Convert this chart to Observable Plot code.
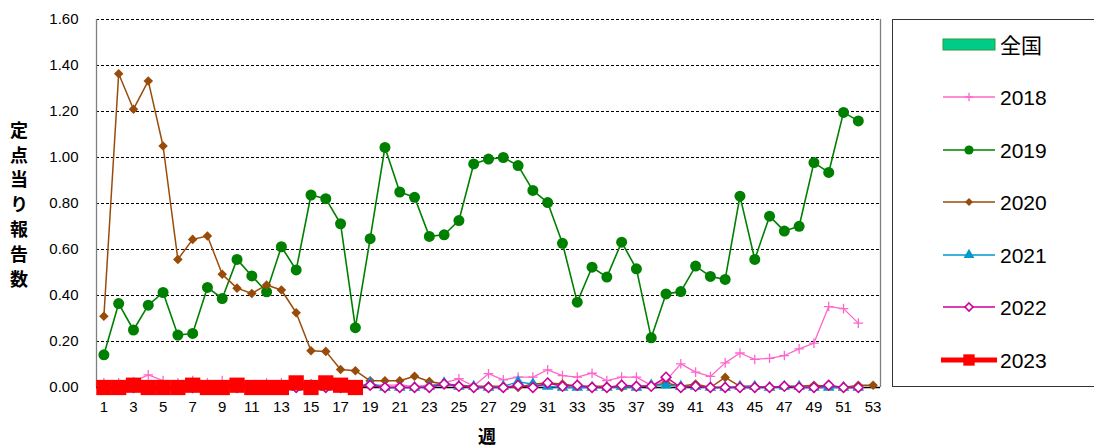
<!DOCTYPE html>
<html><head><meta charset="utf-8">
<script src="https://cdn.jsdelivr.net/npm/d3@7"></script>
<script src="https://cdn.jsdelivr.net/npm/@observablehq/plot@0.6"></script>
<style>
html,body{margin:0;padding:0;background:#fff;}
#wrap{position:relative;width:1094px;height:448px;overflow:hidden;font-family:"Liberation Sans",Arial,sans-serif;}
#ytitle{position:absolute;left:10px;top:121px;writing-mode:vertical-rl;font-family:"Noto Sans CJK JP",sans-serif;font-weight:bold;font-size:18px;letter-spacing:6.8px;line-height:18px;color:#000;}
#xtitle{position:absolute;left:478px;top:424px;font-family:"Noto Sans CJK JP",sans-serif;font-weight:bold;font-size:18px;line-height:22px;color:#000;}
#legend{position:absolute;left:892px;top:19px;width:220px;height:366px;border:1.3px solid #333;background:#fff;}
</style></head>
<body><div id="wrap"><div id="chart"></div><div id="ytitle">定点当り報告数</div><div id="xtitle">週</div><div id="legend"></div></div>
<script>
const weeks53 = d3.range(1, 54);
const seriesNames = ["2018", "2019", "2020", "2021", "2022", "2023"];
const nationalLabel = "全国";
const yTickValues = [0, 0.2, 0.4, 0.6, 0.8, 1.0, 1.2, 1.4, 1.6];
const xTickValues = d3.range(1, 54, 2);

const y2018 = [0.02,0.02,0.025,0.055,0.03,0.02,0.03,0.02,0.03,0.02,0.01,0.02,0.02,0.01,0.01,0.015,0.01,0.01,0.01,0.01,0.01,0.005,0.01,0.02,0.038,0.006,0.06,0.033,0.045,0.045,0.077,0.052,0.045,0.062,0.03,0.045,0.045,0.009,0.03,0.103,0.067,0.048,0.107,0.15,0.122,0.127,0.139,0.168,0.193,0.352,0.343,0.28];
const y2019 = [0.142,0.365,0.25,0.358,0.413,0.228,0.235,0.435,0.387,0.557,0.485,0.416,0.612,0.511,0.837,0.821,0.712,0.26,0.647,1.044,0.85,0.827,0.657,0.664,0.726,0.972,0.993,1.0,0.965,0.857,0.804,0.627,0.371,0.523,0.48,0.632,0.516,0.216,0.407,0.417,0.528,0.483,0.47,0.832,0.557,0.745,0.68,0.701,0.978,0.935,1.196,1.159];
const y2020 = [0.31,1.364,1.21,1.333,1.05,0.557,0.644,0.659,0.492,0.432,0.409,0.446,0.424,0.325,0.16,0.157,0.078,0.073,0.029,0.029,0.029,0.049,0.026,0.015,0.01,0.005,0.005,0.005,0.0,0.015,0.02,0.015,0.005,0.005,0.005,0.0,0.005,0.005,0.02,0.005,0.015,0.0,0.044,0.005,0.005,0.0,0.005,0.005,0.01,0.005,0.0,0.01,0.01];
const y2021 = [0,0,0,0,0,0,0,0,0,0,0,0,0,0,0.01,0,0,0,0.02,0,0,0,0.005,0.02,0.005,0.005,0,0.005,0.025,0.015,0.005,0,0,0,0,0.005,0,0.01,0.01,0.005,0.005,0,0,0.005,0.005,0,0.005,0.005,0,0,0,0];
const y2022 = [0,0,0,0,0,0,0,0,0,0,0,0,0,0,0,0,0,0,0.01,0,0,0,0,0.015,0.005,0,0,0,0.01,0,0.02,0.005,0.01,0,0,0.01,0.005,0.005,0.045,0,0.005,0,0,0,0,0,0.005,0,0,0.01,0,0];
const y2023 = [0,0,0.01,0,0,0,0.01,0,0,0.01,0,0,0,0.02,0,0.02,0.01,0];

const toRows = arr => arr.map((v, i) => ({week: weeks53[i], v}));

const styles = {
  "2018": {stroke:"#ff66cc", lw:1.3, symbol:"plus", r:3.2, fill:"none", sw:1.3, lr:2.8},
  "2019": {stroke:"#008000", lw:1.6, symbol:"circle", r:5.5, fill:"#008000", sw:0, lr:4.6},
  "2020": {stroke:"#994c0a", lw:1.5, symbol:"diamond2", r:4.3, fill:"#994c0a", sw:0, lr:3.6},
  "2021": {stroke:"#0099cc", lw:1.3, symbol:"triangle", r:4.3, fill:"#0099cc", sw:0, lr:4.0},
  "2022": {stroke:"#cc0099", lw:1.5, symbol:"diamond2", r:4.4, fill:"#ffffff", sw:1.6, lr:3.6},
  "2023": {stroke:"#ff0000", lw:5, symbol:"square", r:8.6, fill:"#ff0000", sw:0, lr:6.4}
};
const seriesData = {"2018":y2018,"2019":y2019,"2020":y2020,"2021":y2021,"2022":y2022,"2023":y2023};

const marks = [
  Plot.ruleY(yTickValues.filter(d => d > 0), {stroke:"#000", strokeDasharray:"3,2", strokeWidth:1}),
  Plot.ruleX([0.5], {stroke:"#808080", strokeWidth:1.3}),
  Plot.ruleX([53.5], {stroke:"#808080", strokeWidth:1.3}),
  Plot.ruleY([0], {stroke:"#000", strokeWidth:1.3}),
  Plot.axisY({ticks: yTickValues, tickSize:0, tickPadding:18, tickFormat: d3.format(".2f"), label:null, fontSize:15}),
  Plot.axisX({ticks: xTickValues, tickSize:0, tickPadding:14, label:null, fontSize:15})
];
for (const name of seriesNames) {
  const s = styles[name];
  const rows = toRows(seriesData[name]);
  marks.push(Plot.line(rows, {x:"week", y:"v", stroke:s.stroke, strokeWidth:s.lw}));
  marks.push(Plot.dot(rows, {x:"week", y:"v", symbol:()=>s.symbol, r:s.r, fill:s.fill, stroke: s.sw ? s.stroke : (s.fill === "none" ? s.stroke : "none"), strokeWidth: s.sw || 1.3}));
}

const chart = Plot.plot({
  width: 1094, height: 448,
  marginLeft: 96, marginRight: 214, marginTop: 19, marginBottom: 61,
  x: {type:"linear", domain:[0.5, 53.5]},
  y: {domain:[0, 1.6]},
  symbol: {type:"identity"},
  style: {fontFamily:"'Liberation Sans', Arial, sans-serif", fontSize:"15px", color:"#000", background:"transparent", overflow:"visible"},
  marks
});
document.getElementById("chart").appendChild(chart);

// legend
const lg = d3.select("#legend").append("svg").attr("width", 220).attr("height", 366).style("position","absolute").style("left","-1px").style("top","-1px");
const rowY = [26, 78, 131, 183, 236, 288, 341];
const x0 = 51, x1 = 103, tx = 108;
lg.append("rect").attr("x", x0).attr("y", rowY[0]-6).attr("width", x1-x0).attr("height", 11).attr("fill","#00cc88").attr("stroke","#2f9a3a").attr("stroke-width",1);
lg.append("text").attr("x", tx).attr("y", rowY[0]).attr("dy","0.36em").attr("font-size",21).attr("font-family","'Noto Sans CJK JP',sans-serif").text(nationalLabel);
seriesNames.forEach((name, i) => {
  const s = styles[name];
  const y = rowY[i+1];
  lg.append("line").attr("x1", name==="2023"? x0-2 : x0).attr("x2", name==="2023"? x1+2 : x1).attr("y1", y).attr("y2", y).attr("stroke", s.stroke).attr("stroke-width", name==="2023" ? 5 : s.lw);
  const sym = {circle:d3.symbolCircle, plus:d3.symbolPlus, diamond2:d3.symbolDiamond2, triangle:d3.symbolTriangle, square:d3.symbolSquare}[s.symbol];
  lg.append("path").attr("transform", `translate(${(x0+x1)/2},${y})`).attr("d", d3.symbol(sym, Math.PI*s.lr*s.lr)())
    .attr("fill", s.fill).attr("stroke", s.fill==="none" || s.sw ? s.stroke : "none").attr("stroke-width", s.sw || 1.2);
  lg.append("text").attr("x", tx).attr("y", y).attr("dy","0.36em").attr("font-size",21).attr("font-family","'Liberation Sans',Arial,sans-serif").text(name);
});
</script></body></html>
